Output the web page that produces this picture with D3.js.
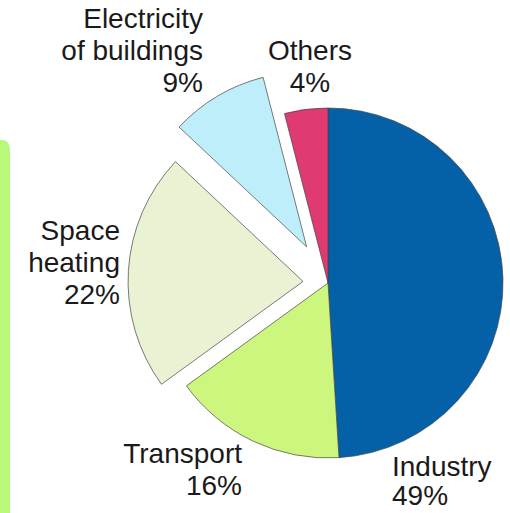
<!DOCTYPE html>
<html><head><meta charset="utf-8">
<script src="https://cdn.jsdelivr.net/npm/d3@7"></script>
<style>body{margin:0;background:#fff}svg{display:block}text{font-family:"Liberation Sans",Arial,sans-serif;fill:#1a1a1a}</style>
</head><body>
<svg id="c" width="510" height="513"></svg>
<script>
const categories = ["Industry","Transport","Space heating","Electricity of buildings","Others"];
const values = [49,16,22,9,4];
const colors = ["#0461A8","#CCF67E","#E9F2D2","#BEEEFA","#E03A72"];
const explode = [0,0,25,42,0];
const labelLines = [["Industry","49%"],["Transport","16%"],["Space","heating","22%"],["Electricity","of buildings","9%"],["Others","4%"]];

const svg = d3.select("#c");
const cx = 328, cy = 283, R = 175;

// left green bar
svg.append("path").attr("d","M0,140 L2,140 Q10,140 10,152 L10,513 L0,513 Z").attr("fill","#B8F87A");

const pie = d3.pie().sort(null).value(d=>d)(values);
const arc = d3.arc().innerRadius(0).outerRadius(R);
const g = svg.append("g").attr("transform",`translate(${cx},${cy})`);
g.selectAll("path").data(pie).enter().append("path")
  .attr("d",arc)
  .attr("fill",(d,i)=>colors[i])
  .attr("stroke","#444").attr("stroke-width",0.7)
  .attr("transform",(d,i)=>{const a=(d.startAngle+d.endAngle)/2;return `translate(${Math.sin(a)*explode[i]},${-Math.cos(a)*explode[i]})`;});

// labels: [x, firstBaseline, anchor, lineStep]
const labelPos = [[392,476,"start",29],[242,463,"end",32],[120,240,"end",32],[203,28,"end",32],[310,60,"middle",32]];
labelLines.forEach((lines,i)=>{
  const [x,y,anc,step] = labelPos[i];
  const t = svg.append("text").attr("x",x).attr("y",y).attr("text-anchor",anc).attr("font-size",28);
  lines.forEach((l,j)=>t.append("tspan").attr("x",x).attr("dy",j===0?0:step).text(l));
});
</script>
</body></html>
